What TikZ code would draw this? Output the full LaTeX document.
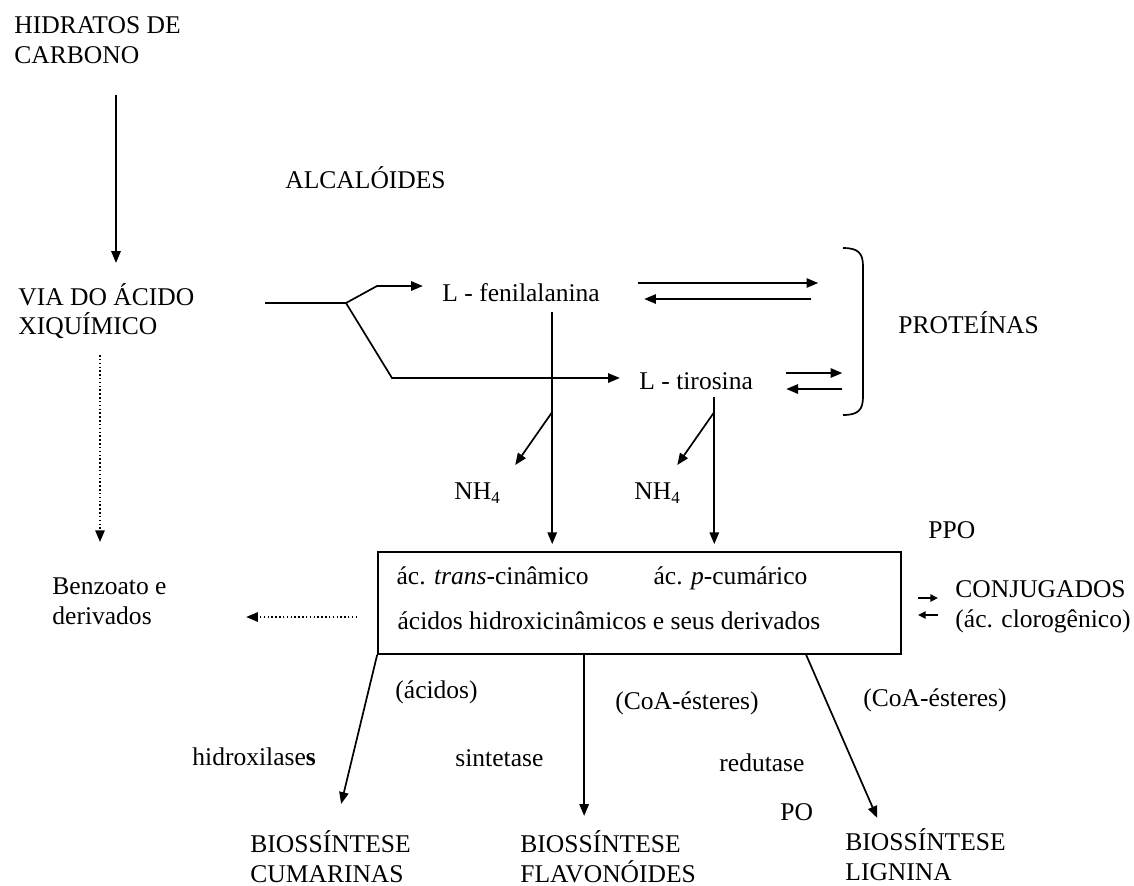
\documentclass[tikz,border=0pt]{standalone}
\usepackage{fontspec}
\setmainfont{Liberation Serif}
\usepackage{tikz}
\usetikzlibrary{arrows.meta,positioning,calc}
\tikzset{
  lbl/.style   = {anchor=west, inner sep=0pt, align=left,
                  font=\fontsize{12}{14}\selectfont},
  rim/.style   = {line width=0.8pt},
  flow/.style  = {-{Triangle[length=5.5pt,width=4.4pt]}, line width=0.8pt},
  dflow/.style = {flow, dash pattern=on 0.7pt off 1.1pt},
  minor/.style = {-{Triangle[length=3.6pt,width=3.4pt]}, line width=0.8pt},
}

\begin{document}
\begin{tikzpicture}[x=0.47pt,y=-0.47pt]
\useasboundingbox (0,0) rectangle (1134,885);
% sources on the left
\node[lbl] (hidr) at (14,40) {HIDRATOS DE\\CARBONO};
\node[lbl] (via) at (18,311) {VIA DO ÁCIDO\\XIQUÍMICO};
\node[lbl] (benz) at (52,601) {Benzoato e\\derivados};
\node[lbl] (alcal) at (285,178) {ALCALÓIDES};
% amino acids and proteins
\node[lbl] (fenil) at (442,293) {L - fenilalanina};
\node[lbl] (tiro) at (639,381) {L - tirosina};
\node[lbl] (prot) at (898,323) {PROTEÍNAS};
\node[lbl] (nha) at (454,493) {NH\textsubscript{4}};
\node[lbl] (nhb) at (634,493) {NH\textsubscript{4}};
% central box of cinnamic acids
\node[draw, rim, minimum width=523*0.47pt, minimum height=102*0.47pt] (box) at (639.5,603) {};
\node[lbl, anchor=base west] (cin) at ($(box.north west)+(19,33)$) {ác. \textit{trans}-cinâmico};
\node[lbl, anchor=base west] (cum) at ($(box.north west)+(276,33)$) {ác. \textit{p}-cumárico};
\node[lbl, anchor=base west] (hcin) at ($(box.north west)+(20,78)$) {ácidos hidroxicinâmicos e seus derivados};
\node[lbl] (ppo) at (928,530) {PPO};
\node[lbl] (conj) at (955,607) {CONJUGADOS\\(ác. clorogênico)};
% enzymes and products below
\node[lbl] (acd) at (395,692) {(ácidos)};
\node[lbl] (hidx) at (192,757) {hidroxilase\textbf{s}};
\node[lbl] (sint) at (455,758) {sintetase};
\node[lbl] (coaa) at (615,703) {(CoA-ésteres)};
\node[lbl] (coab) at (863,700) {(CoA-ésteres)};
\node[lbl] (redu) at (719,763) {redutase};
\node[lbl] (po) at (780,812) {PO};
\node[lbl] (bcum) at (250,857) {BIOSSÍNTESE\\CUMARINAS};
\node[lbl] (bfla) at (520,857) {BIOSSÍNTESE\\FLAVONÓIDES};
\node[lbl] (blig) at (845,855) {BIOSSÍNTESE\\LIGNINA};

% main trunk
\draw[flow] ($(hidr.south west)+(102,31)$) -- ++(0,168);
\coordinate (dtop) at (100,355);
\draw[dflow] (dtop) -- ++(0,187);
% fork of the shikimate pathway
\coordinate (vend) at (265,303);
\coordinate (fork) at (346,303);
\coordinate (kf) at (377,286);
\coordinate (kt) at (392,378);
\draw[rim] (vend) -- (fork);
\draw[flow, shorten >=9pt] (fork) -- (kf) -- (kf -| fenil.west);
\draw[flow, shorten >=9pt] (fork) -- (kt) -- (kt -| tiro.west);
% exchange with proteins
\draw[flow] ($(fenil.east)+(38,-10)$) -- ++(180,0);
\draw[flow] ($(fenil.east)+(211,6)$) -- ++(-167,0);
\draw[flow] ($(tiro.east)+(33,-8)$) -- ++(56,0);
\draw[flow] ($(tiro.east)+(89,8)$) -- ++(-56,0);
\draw[rim] (843,248) .. controls (858,248) and (863,253) .. (863,266)
  -- (863,397) .. controls (863,410) and (858,415) .. (843,415);
% deamination into the box
\draw[flow, shorten >=3.3pt] ($(fenil.east)+(-48,19)$) coordinate (fs) -- (fs |- box.north);
\draw[flow] ($(fs)+(0,100)$) -- ++(-37,53);
\draw[flow, shorten >=3.3pt] ($(tiro.east)+(-39,16)$) coordinate (ts) -- (ts |- box.north);
\draw[flow] ($(ts)+(0,15)$) -- ++(-37,53);
% side routes
\draw[dflow] ($(box.west)+(-20,14)$) -- ++(-111,0);
\draw[minor] ($(conj.west)+(-37,-9)$) -- ++(20,0);
\draw[minor] ($(conj.west)+(-17,8)$) -- ++(-20,0);
% biosynthesis branches
\draw[flow] (box.south west) -- ++(-36,149);
\draw[flow] ($(box.south west)+(207,0)$) -- ++(0,161);
\draw[flow] ($(box.south west)+(429,0)$) -- ++(71,163);
\end{tikzpicture}
\end{document}
